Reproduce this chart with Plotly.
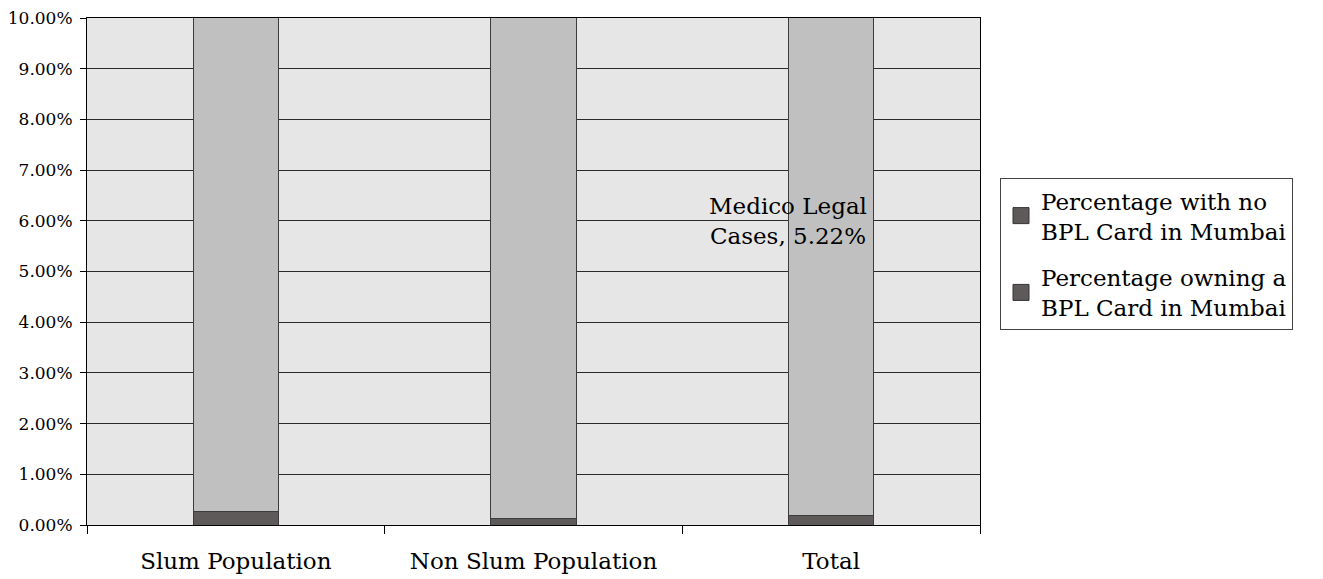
import plotly.graph_objects as go

# Categories and series values (percent)
categories = ["Slum Population", "Non Slum Population", "Total"]
owning_bpl = [0.26, 0.12, 0.18]
no_bpl = [round(100 - v, 2) for v in owning_bpl]
series_names = ["Percentage with no<br>BPL Card in Mumbai",
                "Percentage owning a<br>BPL Card in Mumbai"]
y_ticks = [0, 1, 2, 3, 4, 5, 6, 7, 8, 9, 10]
y_tick_labels = [f"{v:.2f}%" for v in y_ticks]
note_text = "Medico Legal<br>Cases, 5.22%"

DARK = "#5f5a5a"
LIGHT = "#c0c0c0"
EDGE = "#3c3c3c"
FONT = "DejaVu Serif"

fig = go.Figure()

# Stacked bars: owning a card at the bottom, no card above
fig.add_trace(go.Bar(x=categories, y=owning_bpl, marker=dict(color=DARK, line=dict(color=EDGE, width=1)),
                     showlegend=False, hoverinfo="skip"))
fig.add_trace(go.Bar(x=categories, y=no_bpl, marker=dict(color=LIGHT, line=dict(color=EDGE, width=1)),
                     showlegend=False, hoverinfo="skip"))

# Legend entries (both keyed in dark grey)
for i, name in enumerate(series_names):
    fig.add_trace(go.Scatter(x=[None], y=[None], mode="markers", name=name,
                             legendgroup=f"g{i}",
                             marker=dict(symbol="square", size=16, color=DARK,
                                         line=dict(color="#333333", width=1))))

fig.add_annotation(x=categories[2], y=6, xref="x", yref="y", xshift=-43,
                   text=note_text, showarrow=False,
                   font=dict(family=FONT, size=23, color="black"))

fig.update_layout(
    width=1323, height=579,
    margin=dict(l=87, r=343, t=18, b=54, autoexpand=False),
    barmode="stack",
    bargap=0.714,
    paper_bgcolor="white",
    plot_bgcolor="#e6e6e6",
    font=dict(family=FONT, color="black"),
    legend=dict(x=1.0224, xanchor="left", y=0.684, yanchor="top",
                bordercolor="#444444", borderwidth=1, bgcolor="white",
                traceorder="grouped", tracegroupgap=14,
                font=dict(family=FONT, size=23, color="black"),
                itemsizing="trace"),
    showlegend=True,
)
fig.update_xaxes(type="category", tickson="boundaries", ticks="outside", ticklen=8,
                 tickcolor="black", showline=True, linecolor="black", linewidth=1,
                 mirror=True, showgrid=False, tickfont=dict(family=FONT, size=23),
                 ticklabelstandoff=15, automargin=False)
fig.update_yaxes(range=[0, 10], tickvals=y_ticks, ticktext=y_tick_labels,
                 ticks="outside", ticklen=6, tickcolor="black", showline=True,
                 linecolor="black", linewidth=1, mirror=True, showgrid=True,
                 gridcolor="#2a2a2a", gridwidth=1, zeroline=False,
                 tickfont=dict(family=FONT, size=17), ticklabelstandoff=4,
                 automargin=False)

fig.write_html("out.html")
